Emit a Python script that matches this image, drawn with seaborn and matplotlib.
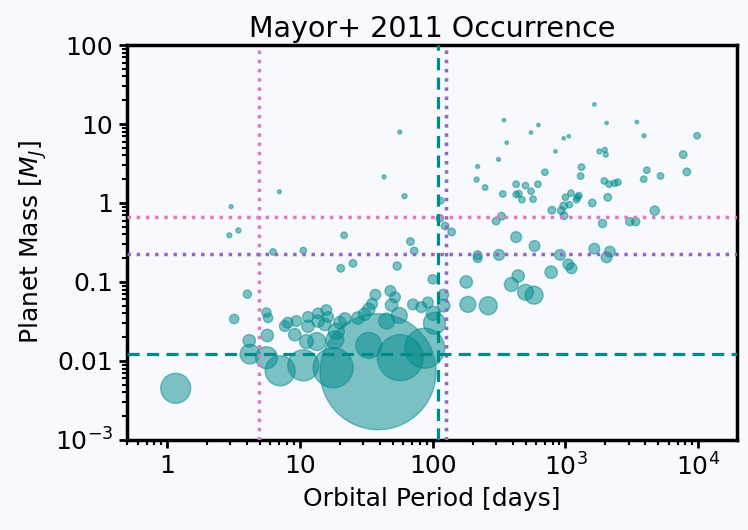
import numpy as np
import pandas as pd
import seaborn as sns
import matplotlib.pyplot as plt

# orbital period [days], planet mass [M_J], occurrence weight (marker area)
period = [1.16, 3.03, 2.94, 3.44, 7.0, 6.27, 10.6, 21.5, 20.3, 25.1,
          43, 56.5, 61.3, 68, 72.5, 54, 100, 115, 113, 124,
          139, 4.02, 3.2, 4.15, 4.2, 5.6, 5.76, 5.68, 5.6, 7.1,
          10.6, 17.8, 38.8, 33, 57, 87, 103, 120, 71, 82,
          92, 179, 184, 121, 37, 48, 52, 49, 35, 56,
          45, 101, 13.4, 18.3, 11.5, 13.7, 15.8, 16.3, 11.5, 13.7,
          20, 21.8, 27.3, 30.7, 33, 18.8, 8.1, 7.7, 9.4, 9.15,
          11.2, 15.4, 262, 218, 218, 316, 425, 585, 391, 440,
          500, 580, 780, 910, 1050, 1110, 1650, 2040, 2160, 300,
          330, 1900, 3050, 3380, 4700, 790, 930, 970, 975, 1070,
          1000, 1100, 1230, 1260, 1210, 1590, 2080, 1960, 2130, 2340,
          2480, 1300, 1320, 700, 620, 550, 570, 500, 425, 445,
          425, 470, 337, 248, 214, 218, 313, 361, 344, 550,
          625, 840, 970, 1060, 1650, 2040, 3450, 3900, 1800, 1980,
          2010, 3880, 4100, 5200, 7700, 8200, 9800]
mass = [0.0045, 0.9, 0.39, 0.45, 1.39, 0.24, 0.25, 0.39, 0.149, 0.172,
        2.14, 7.9, 1.22, 0.325, 0.247, 0.159, 0.108, 1.07, 0.64, 0.51,
        0.43, 0.07, 0.034, 0.018, 0.0122, 0.041, 0.035, 0.021, 0.011, 0.0075,
        0.0088, 0.0082, 0.0073, 0.0157, 0.011, 0.0145, 0.03, 0.069, 0.052, 0.048,
        0.055, 0.1, 0.052, 0.05, 0.069, 0.077, 0.064, 0.051, 0.053, 0.0376,
        0.032, 0.04, 0.0176, 0.0185, 0.036, 0.04, 0.044, 0.036, 0.0275, 0.032,
        0.0305, 0.034, 0.035, 0.039, 0.045, 0.0237, 0.0305, 0.0276, 0.032, 0.0215,
        0.0176, 0.029, 0.05, 0.2, 0.218, 0.22, 0.37, 0.286, 0.093, 0.119,
        0.074, 0.068, 0.133, 0.22, 0.167, 0.149, 0.264, 0.205, 0.242, 0.59,
        0.68, 0.55, 0.58, 0.58, 0.8, 0.81, 0.8, 0.92, 0.69, 0.95,
        1.18, 1.33, 1.18, 1.24, 1.1, 1.0, 1.18, 1.9, 1.73, 1.78,
        1.83, 2.19, 2.85, 2.45, 1.73, 1.41, 1.12, 1.66, 1.73, 1.31,
        1.28, 1.1, 1.3, 1.57, 1.98, 2.9, 3.56, 5.8, 11.2, 7.8,
        9.7, 4.5, 6.6, 7.0, 17.7, 10.3, 10.6, 7.1, 4.5, 4.7,
        4.1, 2.0, 2.6, 2.2, 4.1, 2.48, 7.1]
weight = [466, 8, 13, 13, 8, 22, 22, 22, 30, 30,
          8, 8, 13, 30, 30, 35, 45, 22, 30, 30,
          30, 35, 45, 80, 200, 45, 45, 80, 250, 466,
          500, 830, 6960, 350, 1095, 830, 250, 60, 60, 60,
          60, 80, 132, 80, 60, 60, 60, 80, 60, 132,
          132, 101, 168, 168, 60, 60, 60, 60, 80, 80,
          80, 80, 80, 80, 80, 132, 60, 60, 60, 80,
          101, 80, 168, 40, 40, 60, 60, 60, 101, 80,
          132, 168, 80, 60, 60, 60, 60, 60, 60, 30,
          30, 35, 35, 35, 45, 30, 30, 30, 30, 22,
          22, 22, 22, 22, 22, 30, 30, 22, 22, 22,
          22, 22, 22, 22, 22, 22, 22, 22, 22, 22,
          22, 22, 22, 16, 13, 8, 8, 6, 6, 6,
          6, 6, 6, 6, 6, 6, 6, 8, 13, 13,
          13, 22, 22, 22, 30, 30, 22]

# reference lines
period_lines = [4.9, 110, 127]
mass_lines = [0.66, 0.224, 0.0123]

df = pd.DataFrame({'period': period, 'mass': mass, 'weight': weight})

bg = '#f8f8ff'
teal = '#008b8b'
pink = '#e377c2'
purple = '#9467bd'
sns.set_style('white')
plt.rcParams['font.family'] = ['DejaVu Sans']
plt.rcParams['text.color'] = 'black'
plt.rcParams['axes.labelcolor'] = 'black'
plt.rcParams['xtick.color'] = 'black'
plt.rcParams['ytick.color'] = 'black'

fig = plt.figure(figsize=(7.48, 5.30), dpi=100, facecolor=bg)
ax = fig.add_axes([0.170, 0.170, 0.815, 0.745])
ax.set_facecolor(bg)

sns.scatterplot(data=df, x='period', y='mass', size='weight',
                sizes=(min(weight), max(weight)),
                size_norm=(min(weight), max(weight)),
                color=teal, alpha=0.5, edgecolor=teal, linewidth=1,
                legend=False, ax=ax, zorder=2)

ax.axvline(period_lines[0], color=pink, ls=':', lw=2.5, zorder=3)
ax.axvline(period_lines[1], color=teal, ls='--', lw=2.3, dashes=(3.8, 2.3), zorder=3)
ax.axvline(period_lines[2], color=purple, ls=':', lw=2.5, zorder=3)
ax.axhline(mass_lines[0], color=pink, ls=':', lw=2.5, zorder=3)
ax.axhline(mass_lines[1], color=purple, ls=':', lw=2.5, zorder=3)
ax.axhline(mass_lines[2], color=teal, ls='--', lw=2.3, dashes=(3.8, 2.3), zorder=3)

ax.set_xscale('log')
ax.set_yscale('log')
ax.set_xlim(0.5, 1.95e4)
ax.set_ylim(1e-3, 100)
ax.set_xticks([1, 10, 100, 1e3, 1e4], ['1', '10', '100', '$10^3$', '$10^4$'])
ax.set_yticks([1e-3, 0.01, 0.1, 1, 10, 100],
              ['$10^{-3}$', '0.01', '0.1', '1', '10', '100'])

for s in ax.spines.values():
    s.set_linewidth(2.5)
    s.set_color('black')
ax.tick_params(which='major', direction='out', length=6, width=2, labelsize=18,
               pad=4, bottom=True, left=True, top=False, right=False)
ax.tick_params(which='minor', direction='out', length=3.5, width=1.5,
               bottom=True, left=True, top=False, right=False)

ax.set_xlabel('Orbital Period [days]', fontsize=18, labelpad=4)
ax.set_ylabel('Planet Mass [$M_J$]', fontsize=18, labelpad=4)
ax.set_title('Mayor+ 2011 Occurrence', fontsize=20.5, pad=6)

fig.savefig('out.png', dpi=100, facecolor=bg)
